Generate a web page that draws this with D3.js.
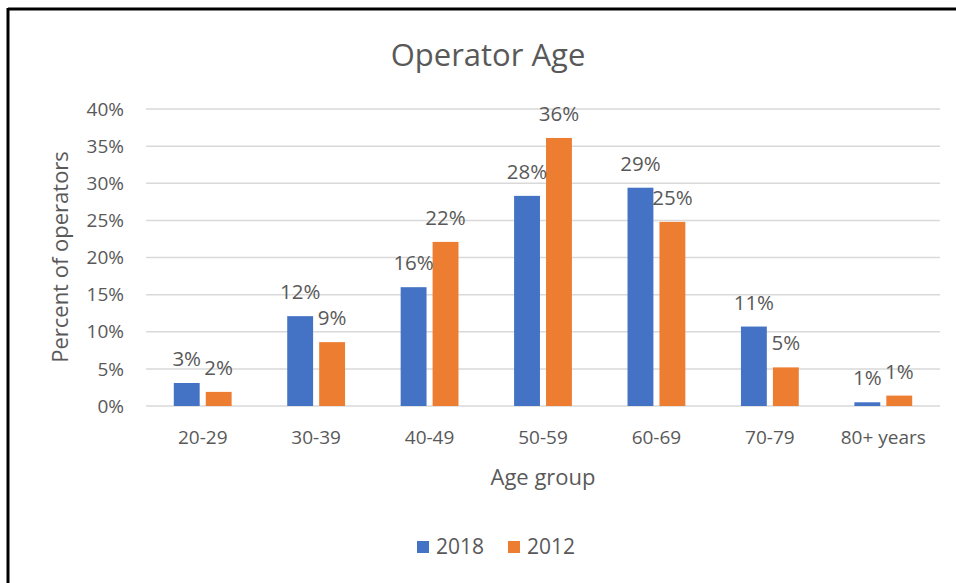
<!DOCTYPE html>
<html>
<head>
<meta charset="utf-8">
<script src="https://cdn.jsdelivr.net/npm/d3@7"></script>
<style>
  body { margin: 0; background: #fff; }
  text { font-family: "Open Sans", "Noto Sans", sans-serif; fill: #595959; }
</style>
</head>
<body>
<div id="chart"></div>
<script>
// data
const ageGroups = ["20-29", "30-39", "40-49", "50-59", "60-69", "70-79", "80+ years"];
const years = ["2018", "2012"];
const values2018 = [3.1, 12.1, 16.0, 28.3, 29.4, 10.7, 0.5];
const values2012 = [1.9, 8.6, 22.1, 36.1, 24.8, 5.2, 1.4];
const yTicks = [0, 5, 10, 15, 20, 25, 30, 35, 40];
const colors = ["#4472C4", "#ED7D31"];

const w = 956, h = 583;
const margin = {left: 146, right: 16, top: 109, bottom: 177};

const svg = d3.select("#chart").append("svg")
  .attr("width", w)
  .attr("height", h);

// frame: only top and left edges show in the shot
svg.append("line").attr("x1", 8).attr("x2", w).attr("y1", 9).attr("y2", 9)
  .attr("stroke", "#000").attr("stroke-width", 3);
svg.append("line").attr("x1", 8).attr("x2", 8).attr("y1", 8).attr("y2", h)
  .attr("stroke", "#000").attr("stroke-width", 3);

const x = d3.scaleBand()
  .domain(ageGroups)
  .range([margin.left, w - margin.right]);

const xInner = d3.scaleBand()
  .domain(years)
  .range([0, x.bandwidth()])
  .paddingInner(0.19)
  .paddingOuter(0.87);

const y = d3.scaleLinear()
  .domain([0, 40])
  .range([h - margin.bottom, margin.top]);

// gridlines
svg.append("g")
  .selectAll("line")
  .data(yTicks)
  .enter()
  .append("line")
  .attr("x1", margin.left)
  .attr("x2", w - margin.right)
  .attr("y1", d => y(d))
  .attr("y2", d => y(d))
  .attr("stroke", "#d9d9d9")
  .attr("stroke-width", 1.5);

// y tick labels
svg.append("g")
  .selectAll("text")
  .data(yTicks)
  .enter()
  .append("text")
  .attr("x", 124)
  .attr("y", d => y(d))
  .attr("dy", "0.35em")
  .style("text-anchor", "end")
  .style("font-size", "19px")
  .text(d => d + "%");

// x tick labels
svg.append("g")
  .selectAll("text")
  .data(ageGroups)
  .enter()
  .append("text")
  .attr("x", d => x(d) + x.bandwidth() / 2)
  .attr("y", 437)
  .attr("dy", "0.35em")
  .style("text-anchor", "middle")
  .style("font-size", "19px")
  .text(d => d);

const rows = ageGroups.map((g, i) => ({group: g, vals: [values2018[i], values2012[i]]}));

const groups = svg.selectAll(".grp")
  .data(rows)
  .enter()
  .append("g")
  .attr("class", "grp")
  .attr("transform", d => "translate(" + x(d.group) + ",0)");

groups.selectAll("rect")
  .data(d => d.vals.map((v, j) => ({year: years[j], v: v, j: j})))
  .enter()
  .append("rect")
  .attr("x", d => xInner(d.year))
  .attr("y", d => y(d.v))
  .attr("width", xInner.bandwidth())
  .attr("height", d => y(0) - y(d.v))
  .attr("fill", d => colors[d.j]);

groups.selectAll(".lbl")
  .data(d => d.vals.map((v, j) => ({year: years[j], v: v})))
  .enter()
  .append("text")
  .attr("class", "lbl")
  .attr("x", d => xInner(d.year) + xInner.bandwidth() / 2)
  .attr("y", d => y(d.v) - 17)
  .style("text-anchor", "middle")
  .style("font-size", "20.5px")
  .text(d => Math.round(d.v) + "%");

// titles
svg.append("text")
  .attr("x", 488)
  .attr("y", 55)
  .attr("dy", "0.35em")
  .style("text-anchor", "middle")
  .style("font-size", "31px")
  .text("Operator Age");

svg.append("text")
  .attr("x", (margin.left + w - margin.right) / 2)
  .attr("y", 477)
  .attr("dy", "0.35em")
  .style("text-anchor", "middle")
  .style("font-size", "22px")
  .text("Age group");

svg.append("text")
  .attr("transform", "translate(60,257) rotate(-90)")
  .attr("dy", "0.35em")
  .style("text-anchor", "middle")
  .style("font-size", "22px")
  .text("Percent of operators");

// legend
const legend = svg.append("g")
  .selectAll("g")
  .data(years)
  .enter()
  .append("g")
  .attr("transform", (d, i) => "translate(" + (417 + i * 91) + ",547)");

legend.append("rect")
  .attr("x", 0)
  .attr("y", -6)
  .attr("width", 12)
  .attr("height", 12)
  .attr("fill", (d, i) => colors[i]);

legend.append("text")
  .attr("x", 19)
  .attr("y", 0)
  .attr("dy", "0.35em")
  .style("font-size", "21px")
  .text(d => d);
</script>
</body>
</html>
